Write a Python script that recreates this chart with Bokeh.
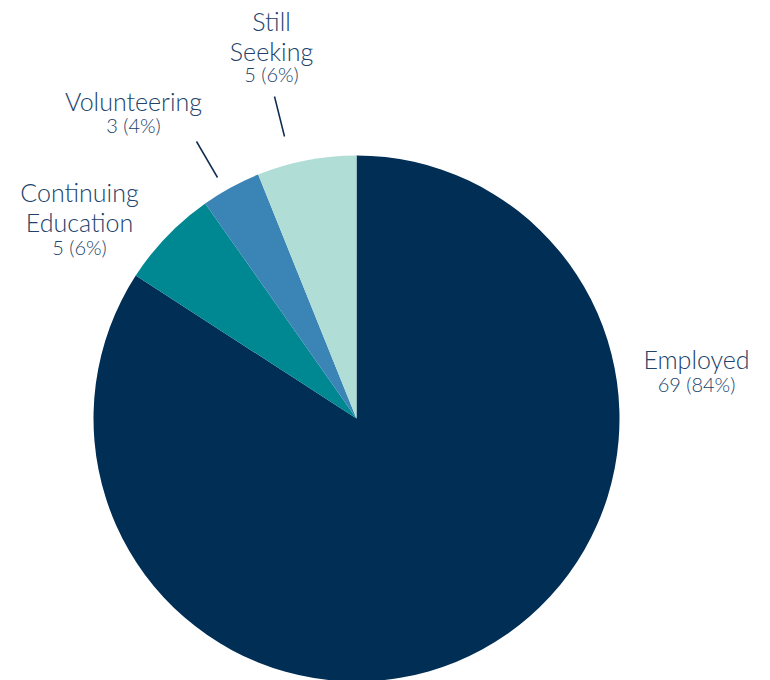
import numpy as np
from bokeh.plotting import figure
from bokeh.models import Range1d, ColumnDataSource
from bokeh.core.properties import value
from bokeh.embed import file_html
from bokeh.resources import INLINE

# ---- data ----
categories = ["Employed", "Continuing Education", "Volunteering", "Still Seeking"]
counts = [69, 5, 3, 5]
label_names = [["Employed"], ["Continuing", "Education"], ["Volunteering"], ["Still", "Seeking"]]
colors = ["#002E55", "#008892", "#3B84B6", "#B0DDD6"]

total = sum(counts)
pcts = [round(100 * c / total) for c in counts]
value_texts = [f"{c} ({p}%)" for c, p in zip(counts, pcts)]

# ---- layout ----
W, H = 770, 680
def X(px):
    return px
def Y(py):
    return H - py

cx, cy, R = X(356), Y(418), 263

# angles (clockwise from 12 o'clock)
fr = np.array(counts, dtype=float) / total
cum = np.concatenate([[0.0], np.cumsum(fr)])
start = np.pi / 2 - cum[:-1] * 2 * np.pi
end = np.pi / 2 - cum[1:] * 2 * np.pi

p = figure(width=W, height=H, output_backend="svg", toolbar_location=None,
           x_range=Range1d(0, W), y_range=Range1d(0, H), min_border=0)
p.axis.visible = False
p.grid.visible = False
p.outline_line_color = None
p.background_fill_color = "white"
p.border_fill_color = "white"

src = ColumnDataSource(dict(x=[cx] * 4, y=[cy] * 4, start=start, end=end, color=colors, cat=categories))
p.wedge(x="x", y="y", radius=R, start_angle="start", end_angle="end", direction="clock",
        fill_color="color", line_color=None, source=src)

# label placement (pixel layout): name line baselines, value baseline, center x
label_layout = {
    "Employed": dict(x=696, names=[358], val=383),
    "Continuing Education": dict(x=79, names=[191, 221], val=246),
    "Volunteering": dict(x=133, names=[100], val=124),
    "Still Seeking": dict(x=271, names=[20, 50], val=73),
}
text_color = "#21426A"
FONT = value("Lato Light")
for cat, names, vt in zip(categories, label_names, value_texts):
    L = label_layout[cat]
    for n, by in zip(names, L["names"]):
        p.text(x=[X(L["x"])], y=[Y(by)], text=[n], text_align="center", text_baseline="alphabetic",
               text_font=FONT, text_font_size="25px", text_color=text_color)
    p.text(x=[X(L["x"])], y=[Y(L["val"])], text=[vt], text_align="center", text_baseline="alphabetic",
           text_font=FONT, text_font_size="20px", text_color=text_color)

# leader lines
p.segment(x0=[X(196), X(274)], y0=[Y(141), Y(96)], x1=[X(217), X(284)], y1=[Y(177), Y(136)],
          line_color="#0F2E4F", line_width=1.5)

open("out.html", "w").write(file_html(p, INLINE))
